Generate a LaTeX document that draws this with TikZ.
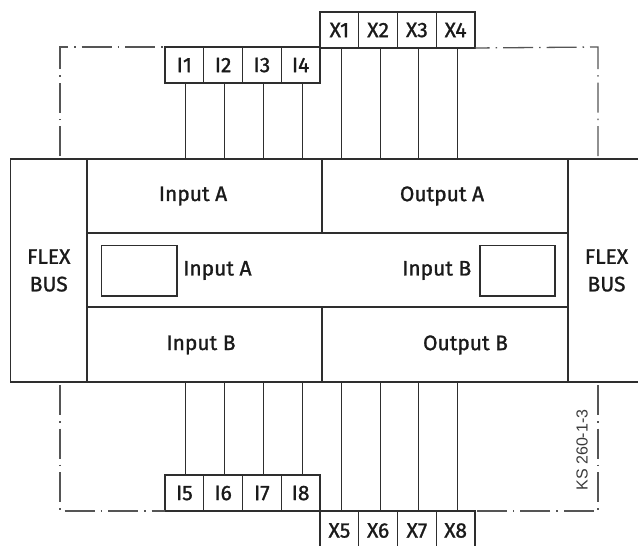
\documentclass[tikz,border=0pt]{standalone}
\usepackage{fontspec}
\setmainfont{Fira Sans}[FakeBold=1.2]
\newfontfamily\ksfont{Liberation Sans}
\definecolor{lc}{HTML}{2E2E2E}
\definecolor{tc}{HTML}{1A1A1A}
\definecolor{dc}{HTML}{555555}
\definecolor{ksc}{HTML}{3A3A3A}
\begin{document}
\begin{tikzpicture}[x=1pt,y=-1pt,
  ln/.style={draw=lc,line width=1.3pt},
  box/.style={ln,rectangle,inner sep=0pt,outer sep=0pt},
  lbl/.style={font=\fontsize{21}{27.5}\selectfont,text=tc,inner sep=0pt,align=center},
  pin/.style={box,minimum width=38.75pt,minimum height=36pt,font=\fontsize{21}{24}\selectfont,text=tc},
  wire/.style={draw=lc,line width=1.1pt},
  dd/.style={draw=dc,line width=1.3pt,dash pattern=on 30pt off 6pt on 1.5pt off 6pt}]
\useasboundingbox (0,0) rectangle (638,546);

% main block
\node[box,minimum width=76.5pt,minimum height=223pt,lbl] (flexL) at (48.75,270.5) {FLEX\\BUS};
\node[box,minimum width=77pt,minimum height=223pt,lbl] (flexR) at (606.5,270.5) {FLEX\\BUS};
\node[box,minimum width=235pt,minimum height=74pt] (cIA) at (204.5,196) {};
\node[box,minimum width=246pt,minimum height=74pt] (cOA) at (445,196) {};
\node[box,minimum width=481pt,minimum height=74pt] (mid) at (327.5,270) {};
\node[box,minimum width=235pt,minimum height=75pt] (cIB) at (204.5,344.5) {};
\node[box,minimum width=246pt,minimum height=75pt] (cOB) at (445,344.5) {};
\draw[draw=lc,line width=2.2pt] (cIA.south west) -- (cIA.south east);
\node[box,minimum width=75.5pt,minimum height=50.5pt,line width=1.1pt] (sqL) at (139.25,270.75) {};
\node[box,minimum width=75pt,minimum height=50.5pt,line width=1.1pt] (sqR) at (517.5,270.75) {};

% texts
\node[lbl] (tIA) at (193,196) {Input A};
\node[lbl] (tOA) at (442,196) {Output A};
\node[lbl] (tIB) at (201,345) {Input B};
\node[lbl] (tOB) at (465.5,345) {Output B};
\node[lbl,anchor=west] (tmA) at (183,270.5) {Input A};
\node[lbl,anchor=east] (tmB) at (471.5,270.5) {Input B};

% top pins
\foreach \n/\x in {1/184.4,2/223.1,3/261.9,4/300.6}
  \node[pin] (i\n) at (\x,65) {I\n};
\foreach \n/\x in {1/339.4,2/378.1,3/416.9,4/455.6}
  \node[pin] (x\n) at (\x,30) {X\n};
% bottom pins
\foreach \n/\x in {5/184.4,6/223.1,7/261.9,8/300.6}
  \node[pin] (i\n) at (\x,493) {I\n};
\foreach \n/\x in {5/339.4,6/378.1,7/416.9,8/455.6}
  \node[pin,minimum height=39pt] (x\n) at (\x,530.5) {X\n};

% wires
\foreach \n in {1,2,3,4}
  \draw[wire] ([xshift=1.5pt]i\n.south) -- ([xshift=1.5pt]i\n.south |- cIA.north);
\foreach \n in {1,2,3,4}
  \draw[wire] ([xshift=2pt]x\n.south) -- ([xshift=2pt]x\n.south |- cOA.north);
\foreach \n in {5,6,7,8}
  \draw[wire] ([xshift=1.5pt]i\n.north) -- ([xshift=1.5pt]i\n.north |- cIB.south);
\foreach \n in {5,6,7,8}
  \draw[wire] ([xshift=2pt]x\n.north) -- ([xshift=2pt]x\n.north |- cOB.south);

% dash-dot frame
\draw[dd] (60,156) -- (60,47) -- (i1.north west);
\draw[dd] (598,156) -- (598,47) -- (x4.south east);
\draw[dd] (60,385) -- (60,511) -- (i5.south west);
\draw[dd] (598,385) -- (598,511) -- (x8.north east);

\node[rotate=90,font=\ksfont\fontsize{16}{16}\selectfont,text=ksc,inner sep=0pt] (ks) at (582,450) {KS 260-1-3};
\end{tikzpicture}
\end{document}
